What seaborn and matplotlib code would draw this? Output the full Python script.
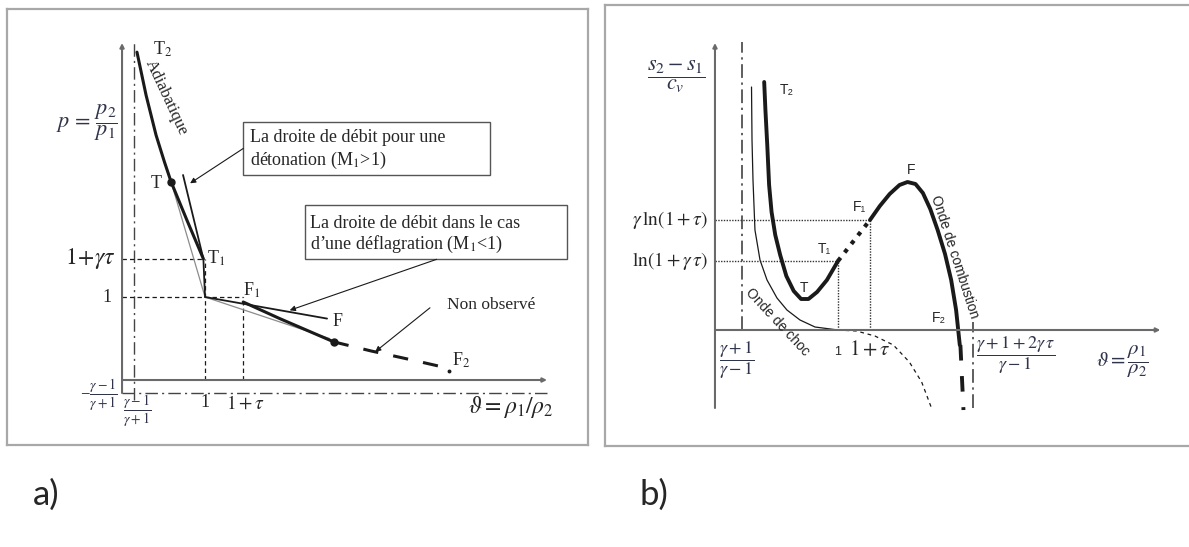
import matplotlib
matplotlib.use('Agg')
import matplotlib.pyplot as plt
from matplotlib.patches import Rectangle
import seaborn as sns

# ---------------- panel a) : adiabatic (theta, p) ----------------
theta_adiab = [0.18, 0.29, 0.41, 0.51, 0.59, 0.78, 0.98]
p_adiab = [3.95, 3.43, 2.95, 2.63, 2.39, 1.93, 1.46]
theta_defl = [1.46, 1.9, 2.55]
p_defl = [0.94, 0.74, 0.46]
theta_nonobs = [2.55, 3.0, 3.5, 3.85]
p_nonobs = [0.46, 0.35, 0.24, 0.16]
theta_deton = [0.735, 0.98, 1.0]          # droite de debit (detonation)
p_deton = [2.47, 1.46, 1.0]
theta_deflline = [1.0, 2.47]              # droite de debit (deflagration)
p_deflline = [1.0, 0.74]
theta_cj = [0.59, 1.0, 2.5]               # tangent (CJ) lines
p_cj = [2.39, 1.0, 0.5]
theta_pts = [0.59, 2.55]                  # T, F
p_pts = [2.39, 0.46]
theta_F2, p_F2 = 3.94, 0.11
tau_a = 0.46
gtau_a = 0.46
theta_min_a = 0.145                       # (g-1)/(g+1)

# ---------------- panel b) : entropy (theta, (s2-s1)/cv) ----------------
theta_choc = [0.297, 0.301, 0.309, 0.325, 0.366, 0.423, 0.504, 0.585, 0.691, 0.813, 1.0]
s_choc = [2.43, 1.90, 1.50, 1.00, 0.70, 0.50, 0.32, 0.20, 0.10, 0.03, 0.0]
theta_choc2 = [1.0, 1.15, 1.3, 1.45, 1.58, 1.68, 1.76]
s_choc2 = [0.0, -0.01, -0.06, -0.15, -0.32, -0.52, -0.78]
theta_det = [0.40, 0.41, 0.425, 0.44, 0.46, 0.49, 0.53, 0.58, 0.64, 0.70, 0.76, 0.83, 0.91, 1.0]
s_det = [2.48, 2.20, 1.85, 1.45, 1.18, 0.95, 0.75, 0.54, 0.39, 0.31, 0.31, 0.38, 0.50, 0.69]
theta_gap = [1.0, 1.26]
s_gap = [0.69, 1.10]
theta_comb = [1.26, 1.34, 1.42, 1.50, 1.565, 1.63, 1.69, 1.75, 1.81, 1.87, 1.92, 1.96, 1.99]
s_comb = [1.10, 1.24, 1.36, 1.45, 1.48, 1.46, 1.37, 1.21, 1.00, 0.76, 0.50, 0.20, -0.15]
theta_comb2 = [1.995, 2.02]
s_comb2 = [-0.15, -0.80]
s_T1, s_F1 = 0.69, 1.10                   # ln(1+g tau), g ln(1+tau)
tau_b = 0.26
theta_asym_l = 0.22
theta_asym_r = 2.098

sns.set_theme(style='white')
plt.rcParams['font.family'] = ['Liberation Serif', 'DejaVu Serif']
plt.rcParams['mathtext.fontset'] = 'stix'

W, H = 1189, 547
fig = plt.figure(figsize=(W / 100, H / 100), dpi=100)
fcol = '#30344a'
sans = ['Liberation Sans', 'DejaVu Sans']


def panel(x0, y0, x1, y1):
    ax = fig.add_axes([x0 / W, 1 - y1 / H, (x1 - x0) / W, (y1 - y0) / H])
    ax.set_xticks([])
    ax.set_yticks([])
    for s in ax.spines.values():
        s.set_color('#a8a8a8')
        s.set_linewidth(1.6)
    return ax


def curve(ax, x, y, **kw):
    sns.lineplot(x=x, y=y, ax=ax, sort=False, estimator=None, **kw)


def arrow(ax, tail, tip, color='k', lw=0.8, ms=8):
    ax.annotate('', xy=tip, xytext=tail,
                arrowprops=dict(arrowstyle='-|>', color=color, lw=lw,
                                mutation_scale=ms, shrinkA=0, shrinkB=0))


dash = (0, (3.5, 2.5))
dashdot = (0, (9, 3, 1.5, 3))
dotted = (0, (1, 1))

# ================= a) =================
ax = panel(7, 9, 588, 445)
ax.set_xlim(-1.386, 5.614)
ax.set_ylim(-0.783, 4.470)

# axes
arrow(ax, (0, -0.157), (0, 4.06), color='#6a6a6a', lw=1.5, ms=6)
arrow(ax, (0, 0), (5.12, 0), color='#6a6a6a', lw=1.5, ms=6)
curve(ax, [theta_min_a, theta_min_a], [-0.24, 4.06], color='#444', lw=1.0, linestyle=dashdot)
curve(ax, [0, 5.12], [-0.157, -0.157], color='#444', lw=1.0, linestyle=dashdot)

# guides
curve(ax, [0, 1 + tau_a], [1, 1], color='k', lw=0.9, linestyle=dash)
curve(ax, [0, 0.98], [1 + gtau_a, 1 + gtau_a], color='k', lw=0.9, linestyle=dash)
curve(ax, [1, 1], [0, 1 + gtau_a], color='k', lw=0.9, linestyle=dash)
curve(ax, [1 + tau_a, 1 + tau_a], [0, 1], color='k', lw=0.9, linestyle=dash)

# curves
curve(ax, theta_cj, p_cj, color='#8c8c8c', lw=0.9)
curve(ax, theta_deton, p_deton, color='k', lw=1.3)
curve(ax, theta_deflline, p_deflline, color='k', lw=1.3)
curve(ax, theta_adiab, p_adiab, color='k', lw=2.2)
curve(ax, theta_defl, p_defl, color='k', lw=2.2)
curve(ax, theta_nonobs, p_nonobs, color='k', lw=2.2, linestyle=(0, (5, 5)))
ax.plot(theta_pts, p_pts, 'o', color='k', ms=5)
ax.plot([theta_F2], [p_F2], 'o', color='k', ms=1.8)

# labels
ax.text(0.37, 3.99, 'T$_2$', ha='left', va='center', fontsize=13)
ax.text(0.53, 3.40, 'Adiabatique', rotation=-65, rotation_mode='anchor',
        ha='center', va='center', fontsize=12)
ax.text(-0.05, 3.10, r'$p\,=\,\dfrac{p_2}{p_1}$', ha='right', va='center', fontsize=16, color=fcol)
ax.text(0.41, 2.37, 'T', ha='center', va='center', fontsize=13)
ax.text(1.02, 1.47, 'T$_1$', ha='left', va='center', fontsize=13)
ax.text(-0.08, 1 + gtau_a, r'$1\!+\!\gamma\tau$', ha='right', va='center', fontsize=17)
ax.text(-0.18, 1.0, '1', ha='center', va='center', fontsize=13)
ax.text(1.46, 1.08, 'F$_1$', ha='left', va='center', fontsize=13)
ax.text(2.60, 0.70, 'F', ha='center', va='center', fontsize=13)
ax.text(3.98, 0.24, 'F$_2$', ha='left', va='center', fontsize=13)
ax.text(4.45, 0.90, 'Non observé', ha='center', va='center', fontsize=12.5)
arrow(ax, (3.71, 0.87), (3.05, 0.34))
ax.text(-0.05, -0.18, r'$-\dfrac{\gamma-1}{\gamma+1}$', ha='right', va='center', fontsize=10, color=fcol)
ax.text(0.18, -0.37, r'$\dfrac{\gamma-1}{\gamma+1}$', ha='center', va='center', fontsize=10, color=fcol)
ax.text(1.0, -0.265, '1', ha='center', va='center', fontsize=13)
ax.text(1 + tau_a + 0.03, -0.29, r'$1+\tau$', ha='center', va='center', fontsize=14)
ax.text(4.69, -0.33, r'$\vartheta = \rho_1/\rho_2$', ha='center', va='center', fontsize=17)

# annotation boxes
ax.add_patch(Rectangle((1.461, 2.47), 2.972, 0.642, fill=False, ec='#555', lw=1.0))
ax.text(1.54, 2.916, 'La droite de débit pour une', ha='left', va='center', fontsize=13)
ax.text(1.54, 2.64, 'détonation (M$_1$>1)', ha='left', va='center', fontsize=13)
arrow(ax, (1.461, 2.79), (0.82, 2.37))
ax.add_patch(Rectangle((2.205, 1.454), 3.16, 0.654, fill=False, ec='#555', lw=1.0))
ax.text(2.265, 1.89, 'La droite de débit dans le cas', ha='left', va='center', fontsize=13)
ax.text(2.265, 1.63, 'd\u2019une déflagration (M$_1$<1)', ha='left', va='center', fontsize=13)
arrow(ax, (3.79, 1.454), (2.02, 0.84))

# ================= b) =================
bx = panel(605, 5, 1195, 446)
bx.set_xlim(-0.894, 3.902)
bx.set_ylim(-1.16, 3.25)
bx.spines['right'].set_visible(False)

arrow(bx, (0, -0.78), (0, 2.87), color='#6a6a6a', lw=1.5, ms=6)
arrow(bx, (0, 0), (3.62, 0), color='#6a6a6a', lw=1.5, ms=6)
curve(bx, [theta_asym_l, theta_asym_l], [0, 2.88], color='#333', lw=1.1, linestyle=dashdot)
curve(bx, [theta_asym_r, theta_asym_r], [-0.78, 0.08], color='#333', lw=1.1, linestyle=dashdot)

curve(bx, [0, 1 + tau_b], [s_F1, s_F1], color='#333', lw=1.0, linestyle=dotted)
curve(bx, [0, 1], [s_T1, s_T1], color='#333', lw=1.0, linestyle=dotted)
curve(bx, [1, 1], [0, s_T1], color='#333', lw=1.0, linestyle=dotted)
curve(bx, [1 + tau_b, 1 + tau_b], [0, s_F1], color='#333', lw=1.0, linestyle=dotted)

curve(bx, theta_choc, s_choc, color='k', lw=0.9)
curve(bx, theta_choc2, s_choc2, color='k', lw=0.9, linestyle=(0, (3, 3)))
curve(bx, theta_det, s_det, color='k', lw=2.8)
curve(bx, theta_gap, s_gap, color='k', lw=3.0, linestyle=(0, (1, 1.6)))
curve(bx, theta_comb, s_comb, color='k', lw=2.8)
curve(bx, theta_comb2, s_comb2, color='k', lw=2.8, linestyle=(0, (4, 4)))

bx.text(-0.317, 2.53, r'$\dfrac{s_2-s_1}{c_v}$', ha='center', va='center', fontsize=16, color=fcol)
bx.text(0.528, 2.40, 'T\u2082', ha='left', va='center', fontsize=10, family=sans)
bx.text(1.171, 1.23, 'F\u2081', ha='center', va='center', fontsize=10, family=sans)
bx.text(0.886, 0.81, 'T\u2081', ha='center', va='center', fontsize=10, family=sans)
bx.text(0.724, 0.42, 'T', ha='center', va='center', fontsize=10, family=sans)
bx.text(1.593, 1.60, 'F', ha='center', va='center', fontsize=10, family=sans)
bx.text(1.821, 0.12, 'F\u2082', ha='center', va='center', fontsize=10, family=sans)
bx.text(0.512, 0.08, 'Onde de choc', rotation=-47, rotation_mode='anchor',
        ha='center', va='center', fontsize=10, family=sans)
bx.text(1.951, 0.73, 'Onde de combustion', rotation=-72, rotation_mode='anchor',
        ha='center', va='center', fontsize=10, family=sans)
bx.text(-0.057, s_F1, r'$\gamma\,\ln(1+\tau)$', ha='right', va='center', fontsize=14)
bx.text(-0.057, s_T1, r'$\ln(1+\gamma\,\tau)$', ha='right', va='center', fontsize=14)
bx.text(0.179, -0.30, r'$\dfrac{\gamma+1}{\gamma-1}$', ha='center', va='center', fontsize=13, color=fcol)
bx.text(1.0, -0.22, '1', ha='center', va='center', fontsize=9, family=sans)
bx.text(1 + tau_b, -0.20, r'$1+\tau$', ha='center', va='center', fontsize=15)
bx.text(2.447, -0.25, r'$\dfrac{\gamma+1+2\gamma\,\tau}{\gamma-1}$', ha='center', va='center',
        fontsize=13, color=fcol)
bx.text(3.309, -0.32, r'$\vartheta = \dfrac{\rho_1}{\rho_2}$', ha='center', va='center',
        fontsize=15, color=fcol)

fig.text(46 / W, 1 - 495 / H, 'a)', ha='center', va='center', fontsize=25, family=['Lato', 'DejaVu Sans'])
fig.text(654 / W, 1 - 495 / H, 'b)', ha='center', va='center', fontsize=25, family=['Lato', 'DejaVu Sans'])

fig.savefig('out.png', dpi=100)
